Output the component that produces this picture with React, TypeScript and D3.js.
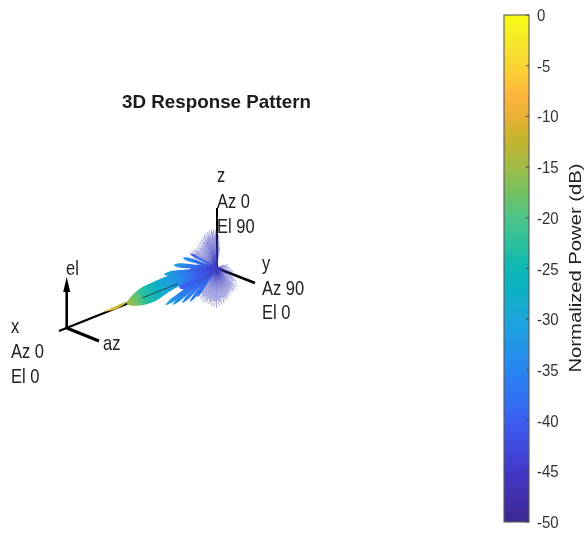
import React from "react";
import * as d3 from "d3";

const title = "3D Response Pattern";
const colorbarLabel = "Normalized Power (dB)";
const dbTicks = [0, -5, -10, -15, -20, -25, -30, -35, -40, -45, -50];
const colormapDb = [0, -3, -6, -8, -10, -12, -15, -18, -20, -23, -25, -28, -30, -33, -35, -38, -40, -43, -45, -48, -50];
const colormapHex = ["#f9fb15", "#f4e42e", "#fbcb35", "#fdb43e", "#e8b035", "#c9b32c", "#9fbb45", "#6cc267", "#4cc38a", "#25bea0", "#08b6b6", "#12aecb", "#1ca5da", "#2393ea", "#2a85f2", "#3170f2", "#3a5ff0", "#4148dc", "#4338c8", "#412ea8", "#3c2a90"];

// Side lobes, polar around the pattern origin: screen angle (deg), length (px), max width (px), tip power (dB)
const lobeAngles = [173, 184, 197, 144, 140, 134.5, 128, 124, 209];
const lobeLengths = [53, 43, 35, 63, 57, 49, 43, 35, 30];
const lobeWidths = [5, 4.4, 3.6, 4, 3.6, 3.4, 3, 2.4, 2.2];
const lobePower = [-29, -31, -33, -30, -32, -34, -36, -38, -42];
const lobeProfileT = [0, 0.2, 0.5, 0.75, 0.9, 1];
const lobeProfileW = [0.2, 0.5, 0.8, 1, 0.85, 0];

// Saturated blue core between the lobes, near the origin
const coreAngles = [152, 168, 142, 180];
const coreLengths = [42, 34, 34, 26];
const coreWidths = [16, 10, 10, 7];
const coreProfileT = [0, 0.35, 0.7, 1];
const coreProfileW = [0.1, 0.6, 1, 0];
const coreDb = -40;

// Main lobe: upper and lower edge offsets from the beam axis
const mainAngle = 158;
const mainLength = 96.5;
const mainUpperT = [0, 0.18, 0.41, 0.54, 0.65, 0.83, 0.97, 1];
const mainUpperOff = [0, 4.3, 9.5, 11, 10.7, 9.3, 3.5, 0];
const mainLowerT = [0.18, 0.41, 0.55, 0.72, 0.88];
const mainLowerOff = [-1.4, -2.6, -4.4, -7.8, -6.2];
const mainGradT = [0, 0.18, 0.4, 0.65, 0.8, 0.9, 1];
const mainGradDb = [-45, -41, -34, -27, -23, -18, -14];
const beamSliverLength = 120;

// Faint side-lobe rays, polar around the pattern origin
const rayAngles = [205, 207, 209, 211, 213, 215, 217, 219, 221, 223, 225, 227, 229, 231, 233, 235, 237, 239, 241, 243, 245, 247, 248, 250, 251, 253, 254, 256, 257, 259, 260, 262, 263, 265, 266, 268, 269, 271, 272, 274, 276, 279,
  -22, -16, -10, -3, 5, 12, 18, 24, 29, 32, 35, 38, 41, 44, 46, 48, 50, 52, 54, 56, 58, 60, 62, 64, 66, 68, 70, 72, 74, 76, 78, 80, 82, 84, 86, 88, 90, 92, 94, 96, 98, 100, 102, 104, 106, 108, 110, 112, 114, 116, 118, 120, 122, 124, 126, 128, 130, 132, 134, 136, 138, 140, 142];
const rayLengths = [26, 29, 31, 26, 30, 26, 30, 27, 29, 25, 28, 25, 29, 26, 30, 25, 31, 27, 32, 29, 33, 28, 34, 35, 30, 36, 32, 37, 33, 38, 32, 39, 36, 39, 32, 38, 35, 37, 30, 33, 26, 21,
  8, 12, 10, 13, 15, 17, 14, 20, 19, 22, 25, 21, 28, 23, 27, 29, 24, 28, 29, 25, 28, 26, 30, 27, 31, 28, 33, 30, 34, 31, 36, 30, 37, 34, 38, 33, 40, 34, 39, 33, 38, 34, 37, 32, 36, 33, 37, 31, 36, 32, 35, 30, 34, 31, 33, 30, 34, 28, 31, 27, 29, 26, 28];

const cx = 216.5;
const cy = 268;

const dbY = d3.scaleLinear().domain([0, -50]).range([15, 522]);
const dbColor = d3.scaleLinear<string>().domain(colormapDb).range(colormapHex).interpolate(d3.interpolateRgb);

function polar(angle: number, r: number, off = 0): [number, number] {
  const a = (angle * Math.PI) / 180;
  return [cx + r * Math.cos(a) - off * Math.sin(a), cy + r * Math.sin(a) + off * Math.cos(a)];
}

function lobePath(angle: number, length: number, width: number, ts: number[], ws: number[]) {
  const upper = ts.map((t, i) => polar(angle, t * length, (ws[i] * width) / 2));
  const lower = ts.map((t, i) => polar(angle, t * length, (-ws[i] * width) / 2)).reverse();
  return d3.line().curve(d3.curveCatmullRomClosed)([...upper, ...lower.slice(1, -1)]) as string;
}

function mainPath() {
  const upper = mainUpperT.map((t, i) => polar(mainAngle, t * mainLength, mainUpperOff[i]));
  const lower = mainLowerT.map((t, i) => polar(mainAngle, t * mainLength, mainLowerOff[i])).reverse();
  return d3.line().curve(d3.curveCatmullRomClosed)([...upper, ...lower]) as string;
}

const sansFont = "'Liberation Sans', Arial, sans-serif";

function Axis3D({ x1, y1, x2, y2, w = 2.6 }: { x1: number; y1: number; x2: number; y2: number; w?: number }) {
  return <line x1={x1} y1={y1} x2={x2} y2={y2} stroke="#000" strokeWidth={w} />;
}

function TallText({ x, y, children }: { x: number; y: number; children: string }) {
  return (
    <text transform={`translate(${x},${y}) scale(1,1.22)`} fontFamily={sansFont} fontSize={16.5} fill="#222">
      {children}
    </text>
  );
}

function Label({ x, y, step, lines }: { x: number; y: number; step: number; lines: string[] }) {
  return (
    <g>
      {lines.map((l, i) => (
        <TallText key={i} x={x} y={y + i * step}>
          {l}
        </TallText>
      ))}
    </g>
  );
}

export default function App() {
  const [mx, my] = polar(mainAngle, mainLength);
  const [sx, sy] = polar(mainAngle, beamSliverLength);
  const [d1x, d1y] = polar(mainAngle, 42);
  const [d2x, d2y] = polar(mainAngle, 80);
  return (
    <svg width={584} height={533} viewBox="0 0 584 533" style={{ position: "absolute", left: 0, top: 0, background: "#fff" }}>
      <defs>
        <filter id="soft" filterUnits="userSpaceOnUse" x="0" y="0" width="584" height="533">
          <feGaussianBlur stdDeviation="0.55" />
        </filter>
        <filter id="softer" filterUnits="userSpaceOnUse" x="90" y="200" width="170" height="130">
          <feGaussianBlur stdDeviation="0.75" />
        </filter>
        <linearGradient id="mainGrad" gradientUnits="userSpaceOnUse" x1={cx} y1={cy} x2={mx} y2={my}>
          {mainGradT.map((t, i) => (
            <stop key={i} offset={t} stopColor={dbColor(mainGradDb[i])} />
          ))}
        </linearGradient>
        <linearGradient id="sliverGrad" gradientUnits="userSpaceOnUse" x1={mx} y1={my} x2={sx} y2={sy}>
          <stop offset={0} stopColor={dbColor(-14)} />
          <stop offset={1} stopColor={dbColor(-9)} />
        </linearGradient>
        <linearGradient id="cbGrad" x1="0" y1="0" x2="0" y2="1">
          {colormapDb.map((d, i) => (
            <stop key={i} offset={d / -50} stopColor={colormapHex[i]} />
          ))}
        </linearGradient>
        {lobeAngles.map((a, i) => {
          const [tx, ty] = polar(a, lobeLengths[i]);
          return (
            <linearGradient key={i} id={`lobe${i}`} gradientUnits="userSpaceOnUse" x1={cx} y1={cy} x2={tx} y2={ty}>
              <stop offset={0} stopColor={dbColor(-46)} />
              <stop offset={0.55} stopColor={dbColor(-38)} />
              <stop offset={1} stopColor={dbColor(lobePower[i])} />
            </linearGradient>
          );
        })}
      </defs>

      <g filter="url(#soft)">
        <text x={122} y={108} textLength={189} lengthAdjust="spacingAndGlyphs" fontFamily={sansFont} fontSize={18.5} fontWeight="bold" fill="#1a1a1a">
          {title}
        </text>

        {/* global axes under the pattern */}
        <Axis3D x1={cx} y1={cy} x2={59} y2={331} w={2.3} />
        <Axis3D x1={cx} y1={cy} x2={255} y2={283} />
        <Axis3D x1={217} y1={cy} x2={217} y2={208} w={2} />

        <g filter="url(#softer)">
          {/* faint rays */}
          {rayAngles.map((a, i) => {
            const [x, y] = polar(a, rayLengths[i]);
            return <line key={i} x1={cx} y1={cy} x2={x} y2={y} stroke="#3f3fc0" strokeOpacity={0.62} strokeWidth={0.75} />;
          })}

          {/* blue core */}
          {coreAngles.map((a, i) => (
            <path key={i} d={lobePath(a, coreLengths[i], coreWidths[i], coreProfileT, coreProfileW)} fill={dbColor(coreDb)} />
          ))}

          {/* side lobes */}
          {lobeAngles.map((a, i) => (
            <path key={i} d={lobePath(a, lobeLengths[i], lobeWidths[i], lobeProfileT, lobeProfileW)} fill={`url(#lobe${i})`} />
          ))}

          {/* main lobe */}
          <path d={lobePath(mainAngle + 0.5, beamSliverLength, 3.4, [0.78, 0.9, 1], [1, 0.9, 0.4])} fill="url(#sliverGrad)" />
          <path d={mainPath()} fill="url(#mainGrad)" />
          <line x1={d1x} y1={d1y} x2={d2x} y2={d2y} stroke="#14343c" strokeWidth={1} strokeOpacity={0.8} />
        </g>

        {/* az / el frame */}
        <Axis3D x1={66.7} y1={328} x2={66.7} y2={290} w={2.6} />
        <path d={d3.line()([[66.7, 277], [70.2, 292], [63.2, 292]]) + "Z"} fill="#000" />
        <Axis3D x1={66.7} y1={328} x2={99} y2={341} w={3} />

        <Label x={217} y={182} step={25.5} lines={["z", "Az 0", "El 90"]} />
        <Label x={262} y={270} step={24.5} lines={["y", "Az 90", "El 0"]} />
        <Label x={11} y={333} step={25} lines={["x", "Az 0", "El 0"]} />
        <TallText x={66} y={275}>el</TallText>
        <TallText x={103} y={350}>az</TallText>

        {/* colorbar */}
        <rect x={504} y={dbY(0)} width={25} height={dbY(-50) - dbY(0)} fill="url(#cbGrad)" stroke="#5a5a5a" strokeWidth={1.1} />
        {dbTicks.map((t) => (
          <g key={t}>
            <line x1={526} x2={529} y1={dbY(t)} y2={dbY(t)} stroke="#444" strokeWidth={1} />
            <text transform={`translate(537,${dbY(t) + 6}) scale(1,1.12)`} fontFamily={sansFont} fontSize={15} fill="#333">
              {t}
            </text>
          </g>
        ))}
        <text transform="translate(581,268) rotate(-90)" textAnchor="middle" textLength={209} lengthAdjust="spacingAndGlyphs" fontFamily={sansFont} fontSize={16} fill="#222">
          {colorbarLabel}
        </text>
      </g>
    </svg>
  );
}
